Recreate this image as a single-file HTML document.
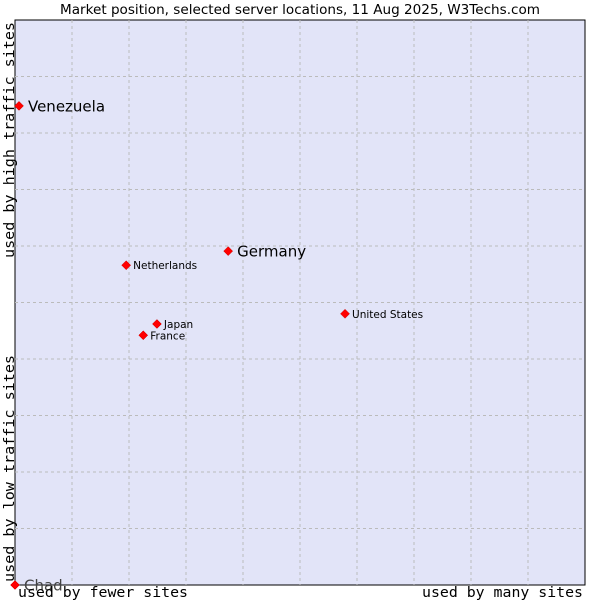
<!DOCTYPE html>
<html><head><meta charset="utf-8"><style>
body{margin:0;background:#fff;}
svg text{font-family:"DejaVu Sans","Liberation Sans",sans-serif;}
.mono{font-family:'DejaVu Sans Mono','Liberation Mono',monospace;}
</style></head><body>
<svg id="chart" width="600" height="600" xmlns="http://www.w3.org/2000/svg">
<text x="300" y="14" text-anchor="middle" font-size="13" textLength="480" lengthAdjust="spacingAndGlyphs" fill="#000">Market position, selected server locations, 11 Aug 2025, W3Techs.com</text>
<rect x="15" y="20" width="570" height="565" fill="#e2e4f8" stroke="#000" stroke-width="1"/>
<g id="grid"></g>
<g id="points"></g>
<text class="mono" x="18" y="597" font-size="14.5" textLength="170" lengthAdjust="spacingAndGlyphs" fill="#000">used by fewer sites</text>
<text class="mono" x="422" y="597" font-size="14.5" textLength="161" lengthAdjust="spacingAndGlyphs" fill="#000">used by many sites</text>
<text class="mono" transform="translate(14,582) rotate(-90)" font-size="14.5" textLength="227" lengthAdjust="spacingAndGlyphs" fill="#000">used by low traffic sites</text>
<text class="mono" transform="translate(14,258) rotate(-90)" font-size="14.5" textLength="236" lengthAdjust="spacingAndGlyphs" fill="#000">used by high traffic sites</text>
</svg>
<script>
const names=["Venezuela","Germany","Netherlands","Japan","France","United States","Chad"];
const xVals=[0.7,37.4,19.5,24.9,22.5,57.9,0];
const yVals=[84.8,59.1,56.6,46.2,44.2,48.0,0];
const big=[true,true,false,false,false,false,true];
const NS="http://www.w3.org/2000/svg";
const L=15,T=20,W=570,H=565;
const sx=v=>L+v/100*W, sy=v=>T+H-v/100*H;
const grid=document.getElementById('grid');
for(let i=1;i<10;i++){
 const v=document.createElementNS(NS,'line');
 
 
 v.setAttribute('x1',sx(i*10));v.setAttribute('x2',sx(i*10));v.setAttribute('y1',T);v.setAttribute('y2',T+H);
 v.setAttribute('stroke','#bbb');v.setAttribute('stroke-dasharray','3,3');grid.appendChild(v);
 const h=document.createElementNS(NS,'line');
 
 
 h.setAttribute('y1',sy(i*10));h.setAttribute('y2',sy(i*10));h.setAttribute('x1',L);h.setAttribute('x2',L+W);
 h.setAttribute('stroke','#bbb');h.setAttribute('stroke-dasharray','3,3');grid.appendChild(h);
}
const pts=document.getElementById('points');
names.forEach((n,i)=>{
 const x=sx(xVals[i]),y=sy(yVals[i]);
 const p=document.createElementNS(NS,'polygon');
 
 
 p.setAttribute('points',`${x},${y-4.5} ${x+4.5},${y} ${x},${y+4.5} ${x-4.5},${y}`);
 p.setAttribute('fill','#f00');p.setAttribute('stroke','#c00');p.setAttribute('stroke-width','0.5');
 pts.appendChild(p);
 const t=document.createElementNS(NS,'text');
 
 
 t.setAttribute('x',x+(big[i]?9:7));t.setAttribute('y',y+(big[i]?5.5:4));
 t.setAttribute('font-size',big[i]?'15':'10.5');
 t.setAttribute('fill',n==='Chad'?'#444':'#000');
 t.textContent=n;pts.appendChild(t);
});
</script>
</body></html>
